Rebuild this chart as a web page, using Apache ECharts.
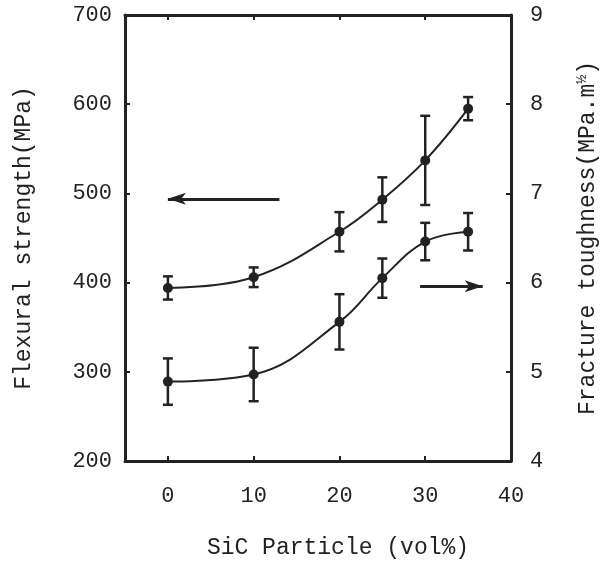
<!DOCTYPE html>
<html><head><meta charset="utf-8">
<script src="https://cdn.jsdelivr.net/npm/echarts@6/dist/echarts.min.js"></script>
<style>html,body{margin:0;padding:0;background:#fff}#c{width:607px;height:564px}</style>
</head><body><div id="c"></div>
<script>
const xValues = [0, 10, 20, 25, 30, 35];
const strength = [394, 406, 457, 493, 537, 595];
const strengthErr = [13, 11, 22, 25, 50, 13];
const toughness = [4.89, 4.97, 5.56, 6.05, 6.46, 6.57];
const toughnessErr = [0.26, 0.30, 0.31, 0.22, 0.21, 0.21];
const xTickLabels = [0, 10, 20, 30, 40];
const leftTickLabels = [200, 300, 400, 500, 600, 700];
const rightTickLabels = [4, 5, 6, 7, 8, 9];
const leftArrow = [[0, 494], [13, 494]];
const rightArrow = [[29.4, 5.96], [36.7, 5.96]];

const INK = '#222';
const FONT = '"Liberation Mono", "Courier New", monospace';

const strengthPts = xValues.map((x, i) => [x, strength[i]]);
const toughPts = xValues.map((x, i) => [x, toughness[i]]);
const strengthBars = xValues.map((x, i) => [x, strength[i] - strengthErr[i], strength[i] + strengthErr[i]]);
const toughBars = xValues.map((x, i) => [x, toughness[i] - toughnessErr[i], toughness[i] + toughnessErr[i]]);

function errRender(params, api) {
  const x = api.value(0);
  const lo = api.coord([x, api.value(1)]);
  const hi = api.coord([x, api.value(2)]);
  const w = 5;
  const st = { stroke: INK, lineWidth: 2.5 };
  return { type: 'group', children: [
    { type: 'line', shape: { x1: lo[0], y1: lo[1], x2: hi[0], y2: hi[1] }, style: st },
    { type: 'line', shape: { x1: lo[0] - w, y1: lo[1], x2: lo[0] + w, y2: lo[1] }, style: st },
    { type: 'line', shape: { x1: hi[0] - w, y1: hi[1], x2: hi[0] + w, y2: hi[1] }, style: st }
  ]};
}

const axisLine = { show: true, onZero: false, lineStyle: { color: INK, width: 3 } };
const axisTick = { show: true, inside: true, length: 5, lineStyle: { color: INK, width: 2 } };
const labelStyle = { color: INK, fontFamily: FONT, fontSize: 22 };
const nameStyle = { color: INK, fontFamily: FONT, fontSize: 23 };

const chart = echarts.init(document.getElementById('c'), null, { renderer: 'canvas' });
chart.setOption({
  animation: false,
  backgroundColor: '#fff',
  grid: { left: 125, right: 90, top: 15, bottom: 101, containLabel: false },
  xAxis: [
    { type: 'value', min: -5, max: 40, position: 'bottom',
      name: 'SiC Particle (vol%)', nameLocation: 'middle', nameGap: 75,
      nameTextStyle: Object.assign({}, nameStyle, { padding: [0, 0, 0, 40] }),
      axisLine: axisLine, splitLine: { show: false },
      axisTick: Object.assign({}, axisTick, { customValues: xTickLabels }),
      axisLabel: Object.assign({}, labelStyle, { margin: 24, customValues: xTickLabels }) },
    { type: 'value', min: -5, max: 40, position: 'top',
      axisLine: axisLine, splitLine: { show: false },
      axisTick: Object.assign({}, axisTick, { customValues: xTickLabels }),
      axisLabel: { show: false } }
  ],
  yAxis: [
    { type: 'value', min: 200, max: 700, interval: 100, position: 'left',
      name: 'Flexural strength(MPa)', nameLocation: 'middle', nameGap: 90, nameRotate: 90, nameTextStyle: nameStyle,
      axisLine: axisLine, axisTick: axisTick, splitLine: { show: false },
      axisLabel: Object.assign({}, labelStyle, { margin: 13, customValues: leftTickLabels }) },
    { type: 'value', min: 4, max: 9, interval: 1, position: 'right',
      name: '{a|Fracture toughness(MPa.m}{s|½}{a|)}', nameLocation: 'middle', nameGap: 64, nameRotate: 90,
      nameTextStyle: { color: INK, fontFamily: FONT, fontSize: 23,
        rich: { a: { color: INK, fontFamily: FONT, fontSize: 23 }, s: { color: INK, fontFamily: FONT, fontSize: 15, padding: [0, 0, 10, 0] } } },
      axisLine: axisLine, axisTick: axisTick, splitLine: { show: false },
      axisLabel: Object.assign({}, labelStyle, { margin: 19, customValues: rightTickLabels }) }
  ],
  series: [
    { type: 'line', name: 'strength', xAxisIndex: 0, yAxisIndex: 0, data: strengthPts, smooth: 0.4,
      symbol: 'circle', symbolSize: 10, itemStyle: { color: INK }, lineStyle: { color: INK, width: 2 },
      markLine: { silent: true, symbol: ['arrow', 'none'], symbolSize: [9, 18], label: { show: false },
        lineStyle: { color: INK, width: 3, type: 'solid' },
        data: [[{ coord: leftArrow[0] }, { coord: leftArrow[1] }]] } },
    { type: 'line', name: 'toughness', xAxisIndex: 0, yAxisIndex: 1, data: toughPts, smooth: 0.4,
      symbol: 'circle', symbolSize: 10, itemStyle: { color: INK }, lineStyle: { color: INK, width: 2 },
      markLine: { silent: true, symbol: ['none', 'arrow'], symbolSize: [9, 18], label: { show: false },
        lineStyle: { color: INK, width: 3, type: 'solid' },
        data: [[{ coord: rightArrow[0] }, { coord: rightArrow[1] }]] } },
    { type: 'custom', xAxisIndex: 0, yAxisIndex: 0, data: strengthBars, renderItem: errRender, z: 3 },
    { type: 'custom', xAxisIndex: 0, yAxisIndex: 1, data: toughBars, renderItem: errRender, z: 3 }
  ]
});
</script></body></html>
